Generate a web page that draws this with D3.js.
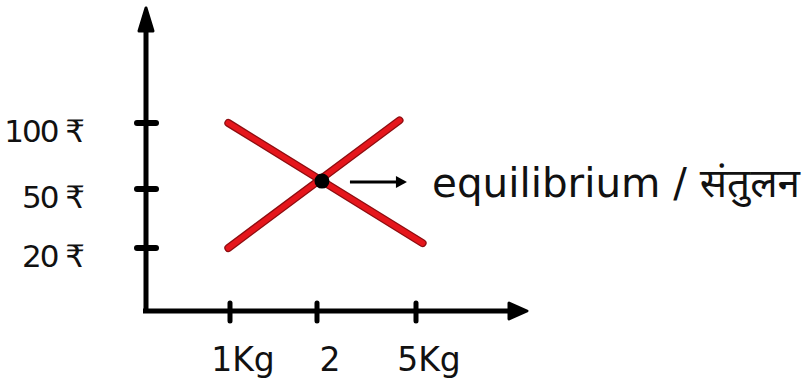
<!DOCTYPE html>
<html>
<head>
<meta charset="utf-8">
<script src="https://cdn.jsdelivr.net/npm/d3@7"></script>
<style>
  body { margin: 0; background: #fff; }
  text { font-family: "DejaVu Sans", "Noto Sans", sans-serif; fill: #111; }
</style>
</head>
<body>
<div id="chart"></div>
<script>
// axis ticks and labels
var priceTicks = [20, 50, 100];
var priceLabels = ["20 ₹", "50 ₹", "100 ₹"];
var qtyTicks = [1, 2, 5];
var qtyLabels = ["1Kg", "2", "5Kg"];

// the two lines (quantity, price)
var demand = [{q: 0.98, p: 100}, {q: 5.2, p: 22.5}];
var supply = [{q: 0.98, p: 20}, {q: 4.5, p: 102}];
var equilibrium = {q: 2.15, p: 56};
var eqLabel = "equilibrium / संतुलन";

var W = 811, H = 392;

var svg = d3.select("#chart")
  .append("svg")
  .attr("width", W)
  .attr("height", H);

// hand drawn axes are not evenly spaced, so piecewise scales
var x = d3.scaleLinear()
  .domain([0, 1, 2, 5])
  .range([146, 230, 317, 416]);
var y = d3.scaleLinear()
  .domain([0, 20, 50, 100])
  .range([311, 248, 189, 123]);

var axisTop = 8, axisRight = 527;

// y axis with arrow
svg.append("line")
  .attr("x1", x(0)).attr("x2", x(0))
  .attr("y1", y(0) + 2).attr("y2", axisTop + 14)
  .attr("stroke", "#000").attr("stroke-width", 5);
svg.append("path")
  .attr("d", "M" + (x(0) - 7) + "," + (axisTop + 23) + "L" + x(0) + "," + axisTop + "L" + (x(0) + 7) + "," + (axisTop + 23) + "Z")
  .attr("fill", "#000").attr("stroke", "#000").attr("stroke-width", 3).attr("stroke-linejoin", "round");

// x axis with arrow
svg.append("line")
  .attr("x1", x(0) - 3).attr("x2", axisRight - 14)
  .attr("y1", y(0)).attr("y2", y(0))
  .attr("stroke", "#000").attr("stroke-width", 5);
svg.append("path")
  .attr("d", "M" + (axisRight - 18) + "," + (y(0) - 8) + "L" + axisRight + "," + y(0) + "L" + (axisRight - 18) + "," + (y(0) + 8) + "Z")
  .attr("fill", "#000").attr("stroke", "#000").attr("stroke-width", 3).attr("stroke-linejoin", "round");

// y ticks + labels
svg.selectAll(".ytick")
  .data(priceTicks)
  .enter().append("line")
  .attr("class", "ytick")
  .attr("x1", x(0) - 9).attr("x2", x(0) + 10)
  .attr("y1", d => y(d)).attr("y2", d => y(d))
  .attr("stroke", "#000").attr("stroke-width", 6).attr("stroke-linecap", "round");
svg.selectAll(".ylabel")
  .data(priceTicks)
  .enter().append("text")
  .attr("class", "ylabel")
  .attr("x", 83)
  .attr("y", d => y(d) + 8)
  .attr("dy", "0.35em")
  .attr("text-anchor", "end")
  .attr("font-size", 31)
  .attr("letter-spacing", -2)
  .text((d, i) => priceLabels[i]);

// x ticks + labels
svg.selectAll(".xtick")
  .data(qtyTicks)
  .enter().append("line")
  .attr("class", "xtick")
  .attr("x1", d => x(d)).attr("x2", d => x(d))
  .attr("y1", y(0) - 8).attr("y2", y(0) + 10)
  .attr("stroke", "#000").attr("stroke-width", 5).attr("stroke-linecap", "round");
svg.selectAll(".xlabel")
  .data(qtyTicks)
  .enter().append("text")
  .attr("class", "xlabel")
  .attr("x", d => x(d) + 13)
  .attr("y", 371)
  .attr("text-anchor", "middle")
  .attr("font-size", 33)
  .text((d, i) => qtyLabels[i]);

// red lines
var line = d3.line().x(d => x(d.q)).y(d => y(d.p));
[demand, supply].forEach(function(s) {
  svg.append("path")
    .attr("d", line(s))
    .attr("fill", "none")
    .attr("stroke", "#8e0d10")
    .attr("stroke-width", 8)
    .attr("stroke-linecap", "round");
  svg.append("path")
    .attr("d", line(s))
    .attr("fill", "none")
    .attr("stroke", "#e5161c")
    .attr("stroke-width", 5.5)
    .attr("stroke-linecap", "round");
});

// equilibrium point, arrow and label
svg.append("circle")
  .attr("cx", x(equilibrium.q))
  .attr("cy", y(equilibrium.p))
  .attr("r", 7.5)
  .attr("fill", "#000");

var ax0 = x(equilibrium.q) + 28, ax1 = ax0 + 57, ay = y(equilibrium.p) + 1;
svg.append("line")
  .attr("x1", ax0).attr("x2", ax1 - 8)
  .attr("y1", ay).attr("y2", ay)
  .attr("stroke", "#000").attr("stroke-width", 3);
svg.append("path")
  .attr("d", "M" + (ax1 - 11) + "," + (ay - 6) + "L" + ax1 + "," + ay + "L" + (ax1 - 11) + "," + (ay + 6) + "Z")
  .attr("fill", "#000");

svg.append("text")
  .attr("x", 432)
  .attr("y", 197)
  .attr("font-size", 40)
  .attr("textLength", 368)
  .attr("lengthAdjust", "spacingAndGlyphs")
  .text(eqLabel);
</script>
</body>
</html>
